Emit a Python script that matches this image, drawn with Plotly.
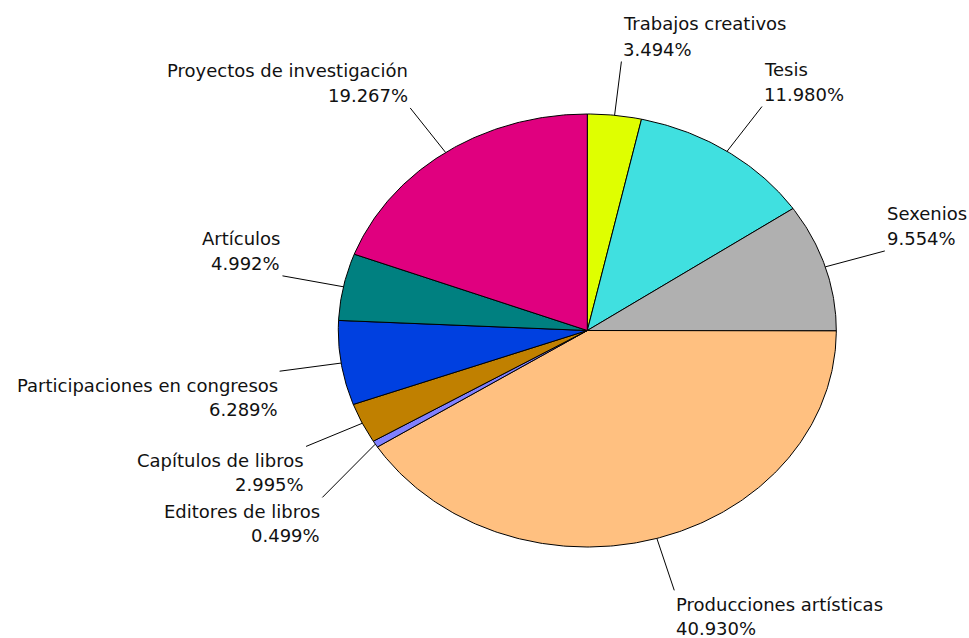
import numpy as np
import plotly.graph_objects as go

# ---- data ----
labels = ["Trabajos creativos", "Tesis", "Sexenios", "Producciones artísticas",
          "Editores de libros", "Capítulos de libros", "Participaciones en congresos",
          "Artículos", "Proyectos de investigación"]
values = [3.494, 11.980, 9.554, 40.930, 0.499, 2.995, 6.289, 4.992, 19.267]
colors = ["#DFFF00", "#40E0E0", "#B0B0B0", "#FFC080", "#8080FF",
          "#C08000", "#0040E0", "#008080", "#E0007F"]

# ---- layout params ----
W, H = 969, 638
CX, CY, RX, RY = 587.3, 330.5, 249.0, 216.5
LEAD = 1.25
LH = 25
FONT = dict(family="DejaVu Sans", size=18, color="#111111")

fig = go.Figure()
total = sum(values)
cum = 0.0
ends = []
for lab, v, c in zip(labels, values, colors):
    a0 = cum / total * 2 * np.pi
    a1 = (cum + v) / total * 2 * np.pi
    n = max(3, int(v * 6))
    t = np.linspace(a0, a1, n)
    xs = np.concatenate([[CX], CX + RX * np.sin(t), [CX]])
    ys = np.concatenate([[CY], CY - RY * np.cos(t), [CY]])
    fig.add_trace(go.Scatter(x=xs, y=ys, mode="lines", fill="toself", fillcolor=c,
                             line=dict(color="#000000", width=1), hoverinfo="skip",
                             showlegend=False))
    m = (a0 + a1) / 2
    p1 = (CX + RX * np.sin(m), CY - RY * np.cos(m))
    p2 = [CX + LEAD * RX * np.sin(m), CY - LEAD * RY * np.cos(m)]
    ends.append([lab, v, m, p1, p2])
    cum += v

# simple overlap avoidance on lower-left side (labels go downward)
lower_left = [e for e in ends if np.pi < e[2] < 1.5 * np.pi]
lower_left.sort(key=lambda e: e[4][1])
prev = None
for e in lower_left:
    if prev is not None and e[4][1] < prev + 2 * LH + 1:
        e[4][1] = prev + 2 * LH + 1
    prev = e[4][1]

for lab, v, m, p1, p2 in ends:
    fig.add_trace(go.Scatter(x=[p1[0], p2[0]], y=[p1[1], p2[1]], mode="lines",
                             line=dict(color="#000000", width=1), hoverinfo="skip",
                             showlegend=False))
    right = np.sin(m) >= 0
    top = np.cos(m) >= 0
    xa = "left" if right else "right"
    al = "left" if right else "right"
    pct = f"{v:.3f}%"
    if top:
        fig.add_annotation(x=p2[0], y=p2[1], text=pct, xanchor=xa, yanchor="bottom",
                           align=al, showarrow=False, font=FONT)
        fig.add_annotation(x=p2[0], y=p2[1] - LH, text=lab, xanchor=xa, yanchor="bottom",
                           align=al, showarrow=False, font=FONT)
    else:
        fig.add_annotation(x=p2[0], y=p2[1] + 2, text=lab, xanchor=xa, yanchor="top",
                           align=al, showarrow=False, font=FONT)
        fig.add_annotation(x=p2[0], y=p2[1] + 1 + LH, text=pct, xanchor=xa, yanchor="top",
                           align=al, showarrow=False, font=FONT)

fig.update_layout(
    width=W, height=H, margin=dict(l=0, r=0, t=0, b=0),
    paper_bgcolor="white", plot_bgcolor="white", hovermode=False,
    xaxis=dict(range=[0, W], visible=False, fixedrange=True),
    yaxis=dict(range=[H, 0], visible=False, fixedrange=True),
)
fig.write_html("out.html", config={"displayModeBar": False},
               post_script="document.body.style.margin='0';document.body.style.overflow='hidden';")
